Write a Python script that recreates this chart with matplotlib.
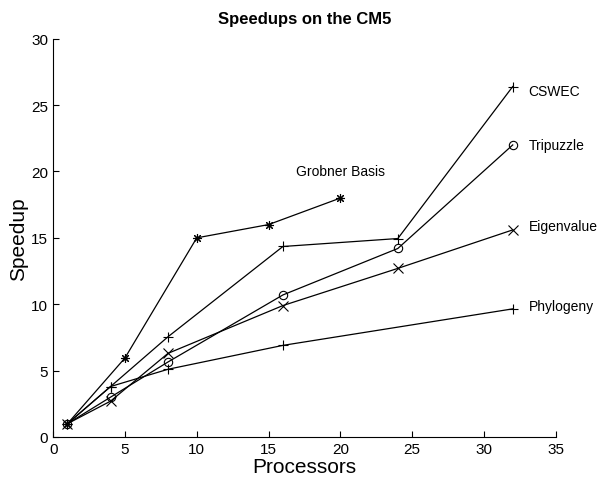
import matplotlib.pyplot as plt

plt.rcParams['font.family'] = ['Liberation Sans', 'DejaVu Sans']

# speedup data
grobner_p = [1, 5, 10, 15, 20]
grobner_s = [1, 5.95, 15.0, 16.0, 18.0]

cswec_p = [1, 4, 8, 16, 24, 32]
cswec_s = [1, 3.8, 7.55, 14.35, 14.95, 26.4]

tripuzzle_p = [1, 4, 8, 16, 24, 32]
tripuzzle_s = [1, 3.0, 5.65, 10.7, 14.2, 22.0]

eigen_p = [1, 4, 8, 16, 24, 32]
eigen_s = [1, 2.7, 6.3, 9.9, 12.7, 15.6]

phylo_p = [1, 4, 8, 16, 32]
phylo_s = [1, 3.8, 5.1, 6.9, 9.65]

fig = plt.figure(figsize=(5.97, 4.85), dpi=100)
ax = fig.add_axes([0.089, 0.097, 0.842, 0.821])

ax.plot(grobner_p, grobner_s, color='black', lw=0.9, marker=(8, 2, 0), ms=6.5, mew=0.8)
ax.plot(cswec_p, cswec_s, color='black', lw=0.9, marker='+', ms=6.5, mew=0.8)
ax.plot(tripuzzle_p, tripuzzle_s, color='black', lw=0.9, marker='o', ms=6, mew=0.8, mfc='none')
ax.plot(eigen_p, eigen_s, color='black', lw=0.9, marker='x', ms=6.5, mew=0.8)
ax.plot(phylo_p, phylo_s, color='black', lw=0.9, marker='+', ms=6.5, mew=0.8)

# line labels
ax.text(20, 20, 'Grobner Basis', fontsize=10, ha='center', va='center')
ax.text(33.1, 26.1, 'CSWEC', fontsize=10, va='center')
ax.text(33.1, 22.0, 'Tripuzzle', fontsize=10, va='center')
ax.text(33.1, 15.9, 'Eigenvalue', fontsize=10, va='center')
ax.text(33.1, 9.9, 'Phylogeny', fontsize=10, va='center')

ax.set_xlim(0, 35)
ax.set_ylim(0, 30)
ax.set_xticks(range(0, 36, 5))
ax.set_yticks(range(0, 31, 5))
ax.tick_params(direction='in', length=4, labelsize=11, width=0.8)
ax.spines['top'].set_visible(False)
ax.spines['right'].set_visible(False)
ax.set_xlabel('Processors', fontsize=15, labelpad=1)
ax.set_ylabel('Speedup', fontsize=15, labelpad=2)
ax.set_title('Speedups on the CM5', fontsize=12, fontweight='bold', pad=11)

fig.savefig('out.png', dpi=100)
